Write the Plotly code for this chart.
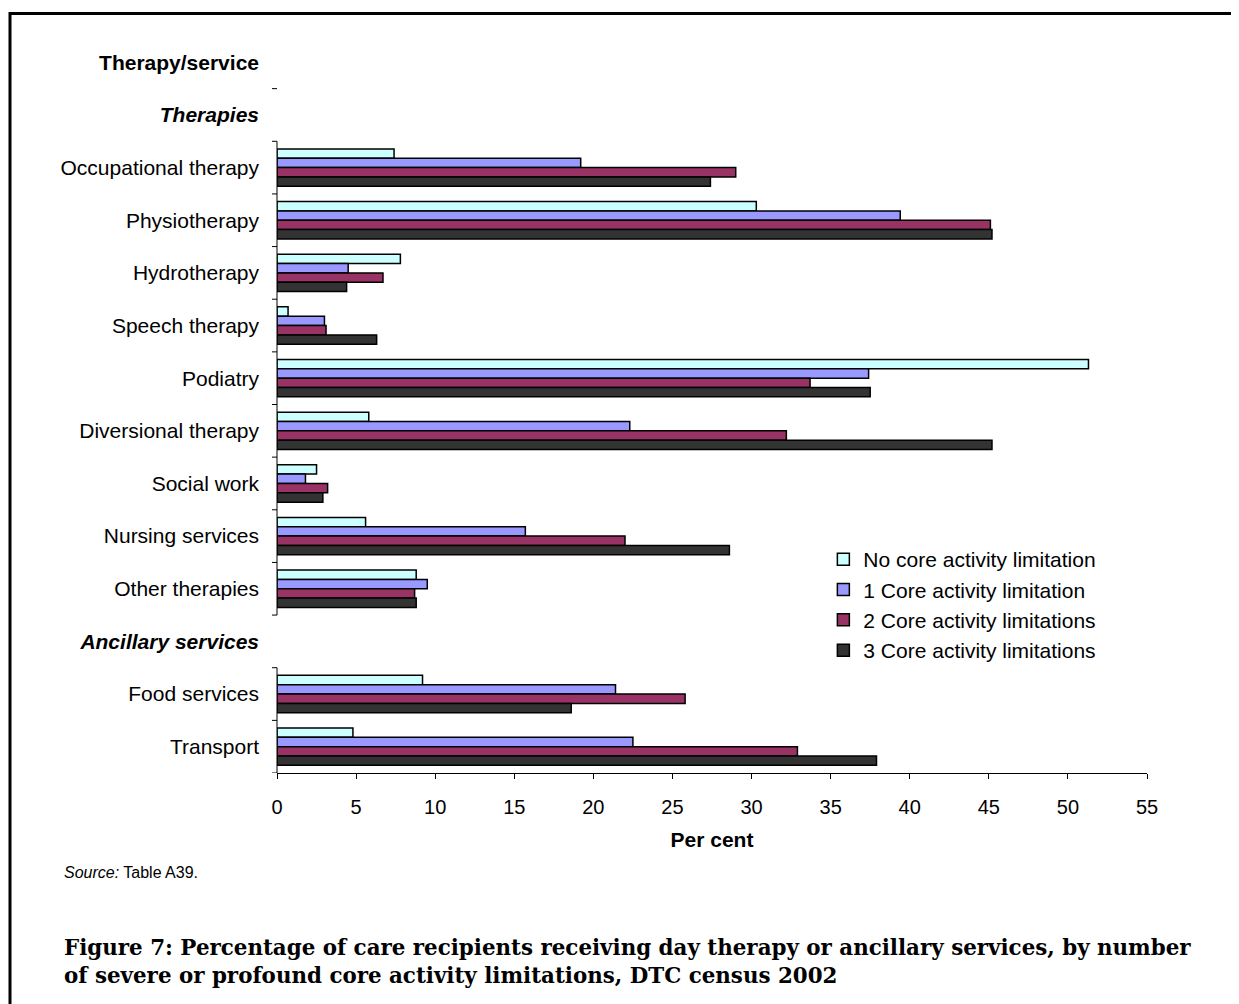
import plotly.graph_objects as go

# ---- data ----
row_labels = [
    "<b>Therapy/service</b>",
    "<b><i>Therapies</i></b>",
    "Occupational therapy",
    "Physiotherapy",
    "Hydrotherapy",
    "Speech therapy",
    "Podiatry",
    "Diversional therapy",
    "Social work",
    "Nursing services",
    "Other therapies",
    "<b><i>Ancillary services</i></b>",
    "Food services",
    "Transport",
]
services = [
    "Occupational therapy", "Physiotherapy", "Hydrotherapy", "Speech therapy",
    "Podiatry", "Diversional therapy", "Social work", "Nursing services",
    "Other therapies", "Food services", "Transport",
]
series_names = [
    "No core activity limitation",
    "1 Core activity limitation",
    "2 Core activity limitations",
    "3 Core activity limitations",
]
no_limitation = [7.4, 30.3, 7.8, 0.7, 51.3, 5.8, 2.5, 5.6, 8.8, 9.2, 4.8]
one_limitation = [19.2, 39.4, 4.5, 3.0, 37.4, 22.3, 1.8, 15.7, 9.5, 21.4, 22.5]
two_limitations = [29.0, 45.1, 6.7, 3.1, 33.7, 32.2, 3.2, 22.0, 8.7, 25.8, 32.9]
three_limitations = [27.4, 45.2, 4.4, 6.3, 37.5, 45.2, 2.9, 28.6, 8.8, 18.6, 37.9]
x_ticks = list(range(0, 56, 5))

colors = ["#CCFFFF", "#9999FF", "#993366", "#333333"]
values = [no_limitation, one_limitation, two_limitations, three_limitations]

FONT = "Liberation Sans, Arial, sans-serif"

fig = go.Figure()
for name, vals, col in zip(series_names, values, colors):
    fig.add_trace(go.Bar(
        y=services, x=vals, name=name, orientation="h",
        marker=dict(color=col, line=dict(color="black", width=1.5)),
        legendgroup=name,
    ))

# y-axis line segments and tick marks (axis decoration)
shapes = []
segments = [(1.5, 10.5), (11.5, 13.5)]
for a, b in segments:
    shapes.append(dict(type="line", xref="paper", yref="y", x0=0, x1=0, y0=a, y1=b,
                       line=dict(color="black", width=1)))
tick_pos = [0.5] + [i + 0.5 for i in range(1, 11)] + [11.5, 12.5, 13.5]
for t in tick_pos:
    shapes.append(dict(type="line", xref="paper", yref="y", x0=-5 / 870, x1=0, y0=t, y1=t,
                       line=dict(color="black", width=1)))
# outer frame
shapes.append(dict(type="rect", xref="paper", yref="paper",
                   x0=(10 - 277) / 870, x1=2, y0=(773 - 13.5) / 737, y1=-1,
                   line=dict(color="black", width=3), fillcolor="rgba(0,0,0,0)"))

fig.update_layout(
    width=1231, height=996,
    margin=dict(l=269, r=92, t=28, b=231),
    paper_bgcolor="white", plot_bgcolor="white",
    barmode="group", bargap=0.29, bargroupgap=0,
    font=dict(family=FONT, size=21, color="black"),
    showlegend=True,
    legend=dict(x=0.628, y=0.3174, xanchor="left", yanchor="top",
                bgcolor="rgba(0,0,0,0)", font=dict(size=21, family=FONT),
                traceorder="normal", tracegroupgap=3),
    shapes=shapes,
    xaxis=dict(range=[0, 55], tickvals=x_ticks, ticks="outside", ticklen=5,
               tickcolor="black", showline=True, linecolor="black", linewidth=1,
               showgrid=False, zeroline=False, tickfont=dict(size=20, family=FONT),
               ticklabelstandoff=11,
               title=dict(text="<b>Per cent</b>", font=dict(size=21, family=FONT), standoff=15)),
    yaxis=dict(type="category", categoryorder="array", categoryarray=row_labels,
               range=[13.5, -0.5], ticks="", showline=False, showgrid=False,
               zeroline=False, tickfont=dict(size=21, family=FONT),
               ticklabelstandoff=17),
    annotations=[
        dict(xref="paper", yref="paper", x=(62 - 277) / 870, y=(773 - 872) / 737,
             xanchor="left", yanchor="middle", showarrow=False, align="left",
             text="<i>Source:</i> Table A39.", font=dict(size=16, family=FONT)),
        dict(xref="paper", yref="paper", x=(62 - 277) / 870, y=(773 - 933) / 737,
             xanchor="left", yanchor="top", showarrow=False, align="left",
             text="<b>Figure 7: Percentage of care recipients receiving day therapy or ancillary services, by number<br>of severe or profound core activity limitations, DTC census 2002</b>",
             font=dict(size=21.4, family="DejaVu Serif, serif")),
    ],
)
# force all rows to show
fig.add_trace(go.Scatter(y=row_labels, x=[None] * len(row_labels), mode="markers",
                         showlegend=False, hoverinfo="skip"))

fig.write_html("out.html")
